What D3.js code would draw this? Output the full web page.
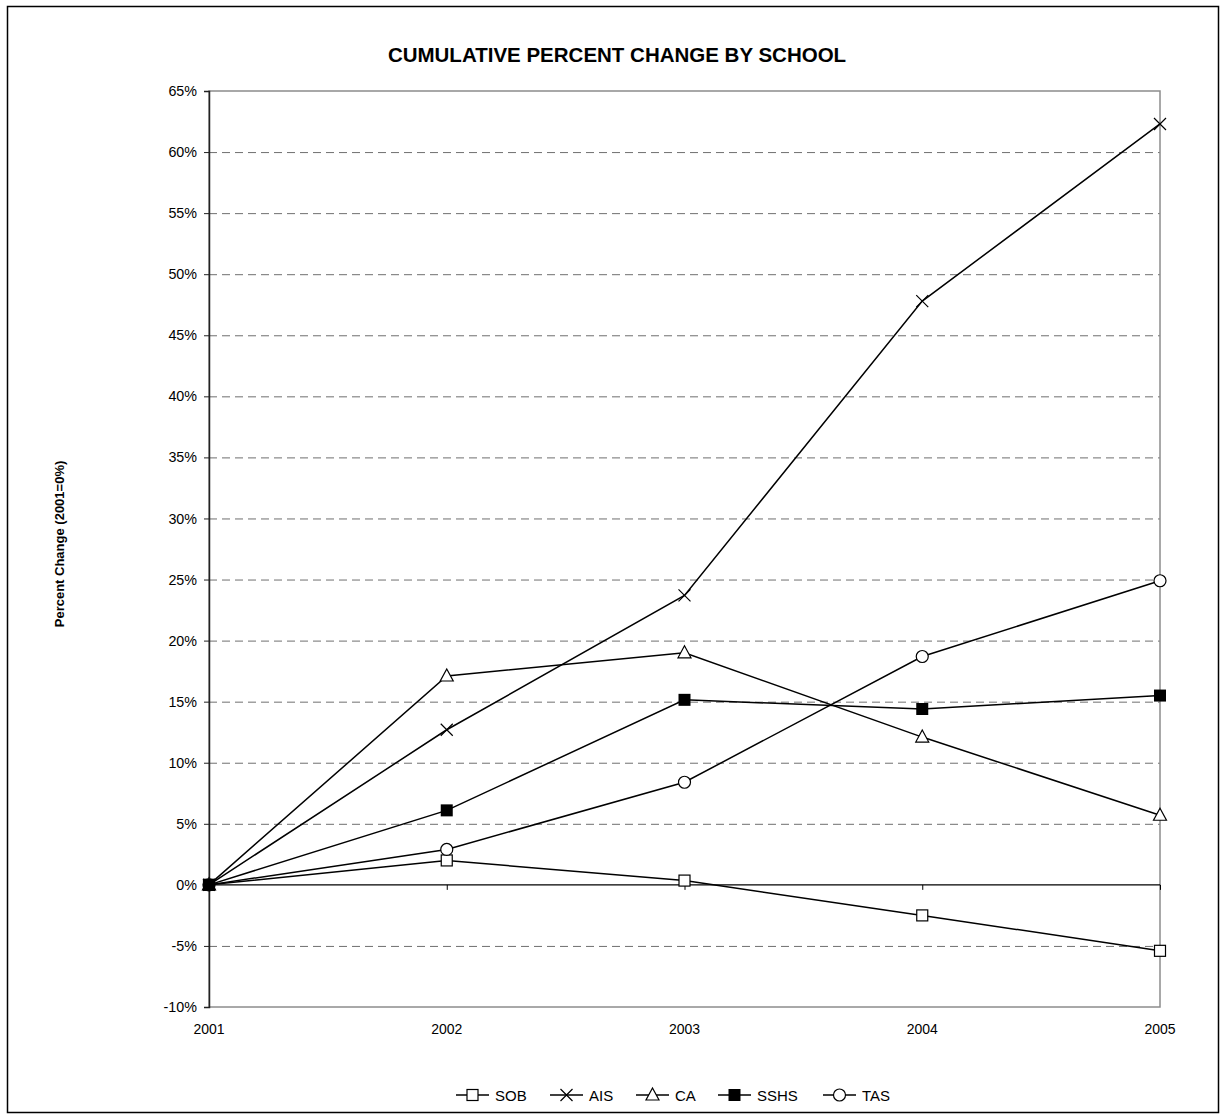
<!DOCTYPE html>
<html><head><meta charset="utf-8">
<script src="https://cdn.jsdelivr.net/npm/d3@7"></script>
<style>body{margin:0;background:#fff;} text{font-family:"Liberation Sans",Arial,sans-serif;}</style>
</head><body>
<svg id="c" width="1221" height="1114"></svg>
<script>
const years = ["2001","2002","2003","2004","2005"];
const SOB  = [0, 2.0, 0.35, -2.5, -5.4];
const AIS  = [0, 12.7, 23.7, 47.8, 62.3];
const CA   = [0, 17.1, 19.0, 12.1, 5.7];
const SSHS = [0, 6.1, 15.15, 14.4, 15.5];
const TAS  = [0, 2.9, 8.4, 18.7, 24.9];
const seriesNames = ["SOB","AIS","CA","SSHS","TAS"];
const markers = ["square","x","triangle","filledSquare","circle"];
const yTicks = d3.range(-10, 66, 5);

const series = [SOB, AIS, CA, SSHS, TAS].map((v,i)=>({name:seriesNames[i], marker:markers[i], values:v}));

const svg = d3.select("#c");
svg.append("rect").attr("x",7.5).attr("y",6.5).attr("width",1211).attr("height",1106)
  .attr("fill","#fff").attr("stroke","#000").attr("stroke-width",1.5);

const L=209, R=1160, T=91, B=1007;
const x = d3.scalePoint().domain(years).range([L,R]).padding(0);
const y = d3.scaleLinear().domain([-10,65]).range([B,T]);

svg.append("text").attr("x",617).attr("y",62).attr("text-anchor","middle")
  .attr("font-weight","bold").attr("font-size",20.5).text("CUMULATIVE PERCENT CHANGE BY SCHOOL");

// gridlines
svg.append("g").selectAll("line").data(yTicks.filter(t=>t!==0 && t!==65 && t!==-10)).join("line")
  .attr("x1",L).attr("x2",R).attr("y1",d=>y(d)+0.5).attr("y2",d=>y(d)+0.5)
  .attr("stroke","#6f6f6f").attr("stroke-width",1).attr("stroke-dasharray","8,5");

// plot border
svg.append("rect").attr("x",L).attr("y",T).attr("width",R-L).attr("height",B-T)
  .attr("fill","none").attr("stroke","#8c8c8c").attr("stroke-width",1.5);

// y axis
const yAxis = d3.axisLeft(y).tickValues(yTicks).tickSize(5).tickPadding(7).tickFormat(d=>d+"%");
const gy = svg.append("g").attr("transform",`translate(${L},0)`).call(yAxis);
gy.select(".domain").attr("stroke","#222").attr("stroke-width",1.5);
gy.selectAll(".tick line").attr("stroke","#222");
gy.selectAll("text").attr("font-size",14.3).attr("fill","#000").style("font-family","Liberation Sans, Arial");

// x axis at 0
const xAxis = d3.axisBottom(x).tickSize(5).tickFormat("");
const gx = svg.append("g").attr("transform",`translate(0,${y(0)})`).call(xAxis);
gx.select(".domain").attr("stroke","#000").attr("stroke-width",1.2).attr("d",`M${L},0H${R}`);
gx.selectAll(".tick line").attr("stroke","#000");

svg.append("g").selectAll("text").data(years).join("text")
  .attr("x",d=>x(d)).attr("y",B+27).attr("text-anchor","middle").attr("font-size",14).text(d=>d);

// y label
svg.append("text").attr("transform",`translate(64,${(T+B)/2 - 5}) rotate(-90)`).attr("text-anchor","middle")
  .attr("font-weight","bold").attr("font-size",13).text("Percent Change (2001=0%)");

const line = d3.line().x((d,i)=>x(years[i])).y(d=>y(d));

function drawMarker(g, type, cx, cy){
  if(type==="square") g.append("rect").attr("x",cx-5.5).attr("y",cy-5.5).attr("width",11).attr("height",11).attr("fill","#fff").attr("stroke","#000").attr("stroke-width",1.2);
  else if(type==="filledSquare") g.append("rect").attr("x",cx-6).attr("y",cy-6).attr("width",12).attr("height",12).attr("fill","#000");
  else if(type==="circle") g.append("circle").attr("cx",cx).attr("cy",cy).attr("r",6).attr("fill","#fff").attr("stroke","#000").attr("stroke-width",1.2);
  else if(type==="triangle") g.append("path").attr("d",`M${cx},${cy-7}L${cx+6.5},${cy+5}L${cx-6.5},${cy+5}Z`).attr("fill","#fff").attr("stroke","#000").attr("stroke-width",1.2);
  else if(type==="x") g.append("path").attr("d",`M${cx-6},${cy-6}L${cx+6},${cy+6}M${cx-6},${cy+6}L${cx+6},${cy-6}`).attr("stroke","#000").attr("stroke-width",1.2);
}

series.forEach(s=>{
  svg.append("path").datum(s.values).attr("d",line).attr("fill","none").attr("stroke","#000").attr("stroke-width",1.5);
});
const drawOrder = [0,1,2,4,3];
drawOrder.forEach(k=>{
  const s = series[k];
  const g = svg.append("g");
  s.values.forEach((v,i)=>drawMarker(g, s.marker, x(years[i]), y(v)));
});

// legend
const legX = [456,550,636,718,823];
const legY = 1095;
series.forEach((s,i)=>{
  const g = svg.append("g");
  g.append("line").attr("x1",legX[i]).attr("x2",legX[i]+33).attr("y1",legY).attr("y2",legY).attr("stroke","#000").attr("stroke-width",1.5);
  drawMarker(g, s.marker, legX[i]+16.5, legY);
  g.append("text").attr("x",legX[i]+39).attr("y",legY+5.5).attr("font-size",15).text(s.name);
});
</script>
</body></html>
